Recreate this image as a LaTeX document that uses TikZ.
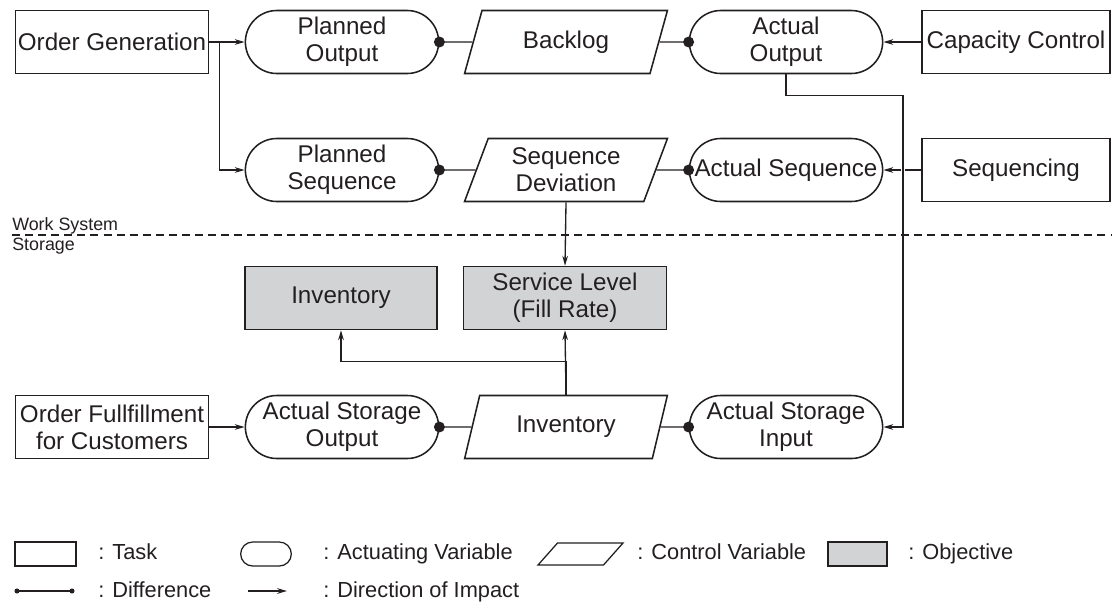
\documentclass[tikz,border=0pt]{standalone}
\usepackage{fontspec}
\setmainfont{Liberation Sans}
\usetikzlibrary{shapes.geometric,shapes.misc,arrows.meta}
\definecolor{objgray}{RGB}{210,211,213}
\definecolor{inkblack}{RGB}{35,31,32}
\tikzset{
  task/.style={draw, line width=1.1pt, minimum width=4.825cm, minimum height=1.575cm, align=center, inner sep=1pt},
  actvar/.style={draw, line width=1.1pt, rounded rectangle, minimum width=4.9cm, minimum height=1.575cm, align=center, inner sep=1pt},
  ctrlvar/.style={draw, line width=1.1pt, trapezium, trapezium left angle=70, trapezium right angle=110, trapezium stretches=true, minimum width=5.075cm, minimum height=1.575cm, align=center, inner sep=1pt},
  objective/.style={draw, line width=1.1pt, fill=objgray, minimum width=4.8cm, minimum height=1.575cm, align=center},
  impact/.style={-{Stealth[length=7pt,width=4pt]}, line width=0.95pt},
  link/.style={line width=0.95pt},
}
\newcommand{\diffdot}[1]{\fill #1 circle (3.9pt);}
\begin{document}
\begin{tikzpicture}[x=0.025cm, y=-0.025cm, color=inkblack, font=\fontsize{17.2}{19}\selectfont]
	\useasboundingbox (0,0) rectangle (1112,608);
	
	% work system
	\node[task] (og) at (112,42) {Order Generation};
	\node[actvar] (po) at (342,42) {Planned\\Output};
	\node[ctrlvar] (bl) at (566,42) {Backlog};
	\node[actvar] (ao) at (786,42) {Actual\\Output};
	\node[task, minimum width=4.7cm] (cc) at (1016,42) {Capacity Control};
	
	\node[actvar] (ps) at (342,170) {Planned\\Sequence};
	\node[ctrlvar] (sd) at (566,170) {Sequence\\Deviation};
	\node[actvar] (as) at (786,170) {Actual Sequence};
	\node[task, minimum width=4.7cm] (sq) at (1016,170) {Sequencing};
	
	% storage
	\node[objective] (ginv) at (341,298) {Inventory};
	\node[objective, minimum width=5.075cm] (sl) at (565,298) {Service Level\\(Fill Rate)};
	
	\node[task] (of) at (112,427) {Order Fullfillment\\for Customers};
	\node[actvar] (aso) at (342,427) {Actual Storage\\Output};
	\node[ctrlvar] (inv) at (566,427) {Inventory};
	\node[actvar] (asi) at (786,427) {Actual Storage\\Input};
	
	% connectors
	\draw[impact] (og.east) -- (po.west);
	\draw[impact] (og.east) -- ++(10,0) |- (ps.west);
	\draw[link] (po.east) -- (bl.west); \diffdot{(po.east)}
	\draw[link] (bl.east) -- (ao.west); \diffdot{(ao.west)}
	\draw[impact] (cc.west) -- (ao.east);
	
	\draw[link] (ps.east) -- (sd.west); \diffdot{(ps.east)}
	\draw[link] (sd.east) -- (as.west); \diffdot{(as.west)}
	\draw[impact] (sq.west) -- (as.east);
	\draw[impact, preaction={draw=white, line width=3.5pt, arrows=-, shorten <=2pt, shorten >=3pt}] (ao.south) -- ++(0,21) -- ++(117,0) |- (asi.east);
	
	\draw[impact] (sd.south) -- (sl.north);
	\draw[impact] (inv.north) -- (sl.south);
	\draw[impact] (inv.north) -- ++(0,-33) -| (ginv.south);
	
	\draw[impact] (of.east) -- (aso.west);
	\draw[link] (aso.east) -- (inv.west); \diffdot{(aso.east)}
	\draw[link] (inv.east) -- (asi.west); \diffdot{(asi.west)}
	
	% border between work system and storage
	\draw[line width=0.9pt, dash pattern=on 5.7pt off 3.6pt] (12,235) -- (1112,235);
	\node[anchor=base west, inner sep=0pt, font=\fontsize{12.7}{15}\selectfont] (wslabel) at (12,230) {Work System};
	\node[anchor=base west, inner sep=0pt, font=\fontsize{12.7}{15}\selectfont] (stlabel) at (12,250) {Storage};
	
	% legend
	\begin{scope}[font=\fontsize{15.5}{18}\selectfont]
		\node[draw, line width=0.9pt, minimum width=1.525cm, minimum height=0.6cm] (ltask) at (45.5,554) {};
		\node[anchor=base west, inner sep=0pt] (ltasktxt) at (98,559) {: Task};
		\node[draw, line width=0.9pt, rounded rectangle, minimum width=1.5cm, minimum height=0.6cm] (lact) at (266,554) {};
		\node[anchor=base west, inner sep=0pt] (lacttxt) at (323,559) {: Actuating Variable};
		\node[draw, line width=0.9pt, trapezium, trapezium left angle=67, trapezium right angle=113, trapezium stretches=true, minimum width=2.125cm, minimum height=0.55cm] (lctrl) at (580.5,554) {};
		\node[anchor=base west, inner sep=0pt] (lctrltxt) at (637,559) {: Control Variable};
		\node[draw, line width=0.9pt, fill=objgray, minimum width=1.475cm, minimum height=0.6cm] (lobj) at (857.5,554) {};
		\node[anchor=base west, inner sep=0pt] (lobjtxt) at (908,559) {: Objective};
		
		\coordinate (ld1) at (17,591);
		\coordinate (ld2) at (72,591);
		\draw[link, line width=1.2pt] (ld1) -- (ld2);
		\fill (ld1) circle (1.8pt) (ld2) circle (1.8pt);
		\node[anchor=base west, inner sep=0pt] (ldifftxt) at (98,597) {: Difference};
		\coordinate (la1) at (248,591);
		\coordinate (la2) at (287,591);
		\draw[impact, line width=1.3pt] (la1) -- (la2);
		\node[anchor=base west, inner sep=0pt] (limptxt) at (323,597) {: Direction of Impact};
	\end{scope}
\end{tikzpicture}
\end{document}
